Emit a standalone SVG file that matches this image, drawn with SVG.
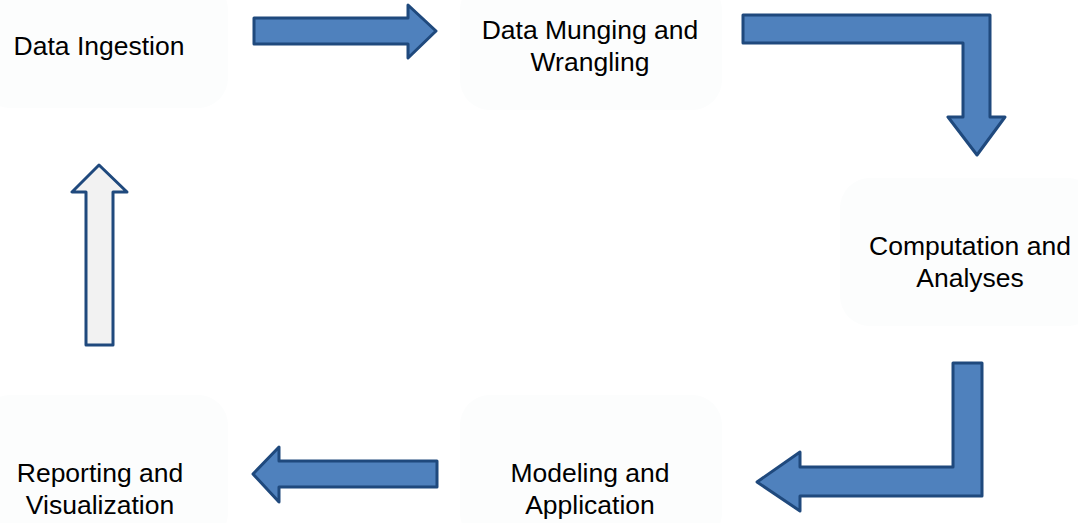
<svg xmlns="http://www.w3.org/2000/svg" width="1078" height="523" viewBox="0 0 1078 523">
<style>
.bg{fill:#fcfdfd;stroke:none}
.t{font-family:"Liberation Sans",Arial,sans-serif;font-size:26.5px;fill:#000;text-anchor:middle}
.ar{fill:#4f81bd;stroke:#1f497d;stroke-width:3;stroke-linejoin:round}
.ar2{fill:#f2f2f2;stroke:#1f497d;stroke-width:3;stroke-linejoin:round}
</style>
<rect width="1078" height="523" fill="#ffffff"/>
<g id="node-ingestion">
<rect class="bg" x="-20" y="-20" width="248" height="128" rx="30"/>
<text class="t" x="99" y="55">Data Ingestion</text>
</g>
<g id="node-munging">
<rect class="bg" x="460" y="-20" width="262" height="130" rx="30"/>
<text class="t" x="590" y="39">Data Munging and</text>
<text class="t" x="590" y="71">Wrangling</text>
</g>
<g id="node-computation">
<rect class="bg" x="840" y="178" width="258" height="148" rx="30"/>
<text class="t" x="970" y="255">Computation and</text>
<text class="t" x="970" y="287">Analyses</text>
</g>
<g id="node-modeling">
<rect class="bg" x="460" y="395" width="262" height="148" rx="30"/>
<text class="t" x="590" y="482">Modeling and</text>
<text class="t" x="590" y="514">Application</text>
</g>
<g id="node-reporting">
<rect class="bg" x="-20" y="395" width="248" height="148" rx="30"/>
<text class="t" x="100" y="482">Reporting and</text>
<text class="t" x="100" y="514">Visualization</text>
</g>
<g id="connectors">
<path class="ar" d="M254,18 L408,18 L408,5 L436,31 L408,58 L408,44 L254,44 Z"/>
<path class="ar" d="M743,15 L990,15 L990,117 L1005,117 L977,155 L948,117 L963,117 L963,43 L743,43 Z"/>
<path class="ar" d="M953,363 L982,363 L982,496 L800,496 L800,511 L757,482 L800,452 L800,467 L953,467 Z"/>
<path class="ar" d="M437,461 L437,487 L279,487 L279,502 L253,474 L279,447 L279,461 Z"/>
<path class="ar2" d="M86,345 L113,345 L113,192 L127,192 L99,165 L72,192 L86,192 Z"/>
</g>
</svg>
